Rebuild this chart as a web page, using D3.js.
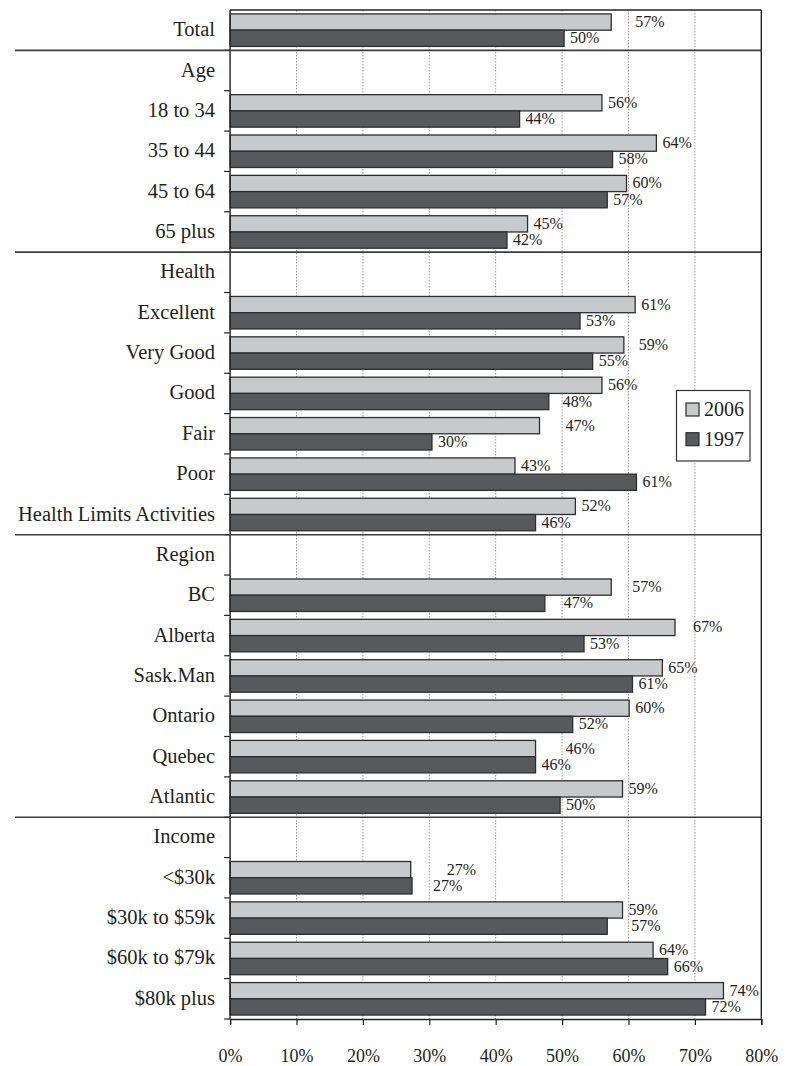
<!DOCTYPE html>
<html>
<head>
<meta charset="utf-8">
<script src="https://cdn.jsdelivr.net/npm/d3@7"></script>
<style>
  html, body { margin: 0; padding: 0; background: #fff; }
  svg { display: block; }
  text { font-family: "Liberation Serif", "DejaVu Serif", serif; fill: #231f20; }
</style>
</head>
<body>
<svg id="chart" width="789" height="1066"></svg>
<script>
// Rows of the chart, top to bottom; group headings carry no bars.
const categories = [
  "Total",
  "Age", "18 to 34", "35 to 44", "45 to 64", "65 plus",
  "Health", "Excellent", "Very Good", "Good", "Fair", "Poor", "Health Limits Activities",
  "Region", "BC", "Alberta", "Sask.Man", "Ontario", "Quebec", "Atlantic",
  "Income", "<$30k", "$30k to $59k", "$60k to $79k", "$80k plus"
];
const headings = ["Age", "Health", "Region", "Income"];
const seriesKeys = ["2006", "1997"];

// Percentages per row (null for headings)
const values2006 = [
  57.4,
  null, 56.0, 64.2, 59.7, 44.8,
  null, 61.0, 59.3, 56.0, 46.6, 42.9, 52.0,
  null, 57.4, 67.0, 65.1, 60.1, 46.0, 59.1,
  null, 27.2, 59.1, 63.7, 74.3
];
const values1997 = [
  50.3,
  null, 43.6, 57.6, 56.8, 41.7,
  null, 52.7, 54.6, 48.0, 30.4, 61.2, 46.0,
  null, 47.4, 53.3, 60.6, 51.6, 46.0, 49.7,
  null, 27.4, 56.8, 65.9, 71.6
];
const xTickValues = [0, 10, 20, 30, 40, 50, 60, 70, 80];

// Extra horizontal shift (px) for value labels that sit further from their bar
const labelNudge = {
  "Total|2006": 18, "Very Good|2006": 9, "Good|1997": 8, "Fair|2006": 20,
  "BC|2006": 15, "BC|1997": 13, "Alberta|2006": 12, "Quebec|2006": 24,
  "<$30k|2006": 30, "<$30k|1997": 15, "$30k to $59k|1997": 18
};

const svg = d3.select("#chart");
const plotTop = 10, plotBottom = 1019, plotLeft = 230.1, plotRight = 761.3;

const x = d3.scaleLinear().domain([0, 80]).range([plotLeft, plotRight]);
const y = d3.scaleBand().domain(categories).range([plotTop, plotBottom])
  .paddingInner(0.195).paddingOuter(0.0975);
const ySub = d3.scaleBand().domain(seriesKeys).range([0, y.bandwidth()]);
const fill = d3.scaleOrdinal().domain(seriesKeys).range(["#c8c9ca", "#58595b"]);

const series = { "2006": values2006, "1997": values1997 };
const fmt = d3.format(".0f");
const boundary = c => y(c) - y.step() * y.paddingInner() / 2;

// Dotted vertical gridlines
svg.append("g")
  .selectAll("line")
  .data(xTickValues.filter(v => v > 0 && v < 80))
  .join("line")
  .attr("x1", d => x(d)).attr("x2", d => x(d))
  .attr("y1", plotTop).attr("y2", plotBottom)
  .attr("stroke", "#9d9d9d").attr("stroke-width", 1)
  .attr("stroke-dasharray", "1.5,1.5");

// Bars
const rows = categories.map((c, i) => ({ c, i })).filter(d => !headings.includes(d.c));
const barData = rows.flatMap(r => seriesKeys.map(k => ({ c: r.c, k, v: series[k][r.i] })));

svg.append("g")
  .selectAll("rect")
  .data(barData)
  .join("rect")
  .attr("x", x(0))
  .attr("y", d => y(d.c) + ySub(d.k))
  .attr("width", d => x(d.v) - x(0))
  .attr("height", ySub.bandwidth())
  .attr("fill", d => fill(d.k))
  .attr("stroke", "#2e2e2e")
  .attr("stroke-width", 1.3);

// Value labels
svg.append("g")
  .selectAll("text")
  .data(barData)
  .join("text")
  .attr("x", d => x(d.v) + 6 + (labelNudge[d.c + "|" + d.k] || 0))
  .attr("y", d => y(d.c) + ySub(d.k) + ySub.bandwidth() / 2 + 5)
  .attr("font-size", 16)
  .text(d => fmt(d.v) + "%");

// Plot frame: top and right edges, left axis line
const frame = svg.append("g").attr("stroke", "#222").attr("stroke-width", 1.4).attr("fill", "none");
frame.append("line").attr("x1", plotLeft).attr("x2", plotRight).attr("y1", plotTop).attr("y2", plotTop);
frame.append("line").attr("x1", plotRight).attr("x2", plotRight).attr("y1", plotTop).attr("y2", plotBottom);
frame.append("line").attr("x1", plotLeft).attr("x2", plotLeft).attr("y1", plotTop).attr("y2", plotBottom);

// Small ticks on the left axis between rows
svg.append("g")
  .selectAll("line")
  .data(categories.slice(1).map(boundary).concat([plotBottom]))
  .join("line")
  .attr("x1", plotLeft - 6).attr("x2", plotLeft)
  .attr("y1", d => d).attr("y2", d => d)
  .attr("stroke", "#222").attr("stroke-width", 1.2);

// Group separators
svg.append("g")
  .selectAll("line")
  .data(headings)
  .join("line")
  .attr("x1", 15).attr("x2", plotRight)
  .attr("y1", d => boundary(d)).attr("y2", d => boundary(d))
  .attr("stroke", "#3c3c3c").attr("stroke-width", 1.6);

// Category labels
svg.append("g")
  .selectAll("text")
  .data(categories)
  .join("text")
  .attr("x", 215)
  .attr("y", d => y(d) + y.bandwidth() / 2 + 6)
  .attr("text-anchor", "end")
  .attr("font-size", 20.5)
  .text(d => d);

// Bottom axis
const xAxis = svg.append("g")
  .attr("transform", `translate(0,${plotBottom})`)
  .call(d3.axisBottom(x).tickValues(xTickValues).tickFormat(d => d + "%").tickSize(6).tickPadding(24));
xAxis.select(".domain").attr("stroke", "#222").attr("stroke-width", 1.4);
xAxis.selectAll(".tick line").attr("stroke", "#222").attr("stroke-width", 1.2);
xAxis.selectAll(".tick text")
  .attr("font-size", 18)
  .attr("font-family", "Liberation Serif, DejaVu Serif, serif")
  .attr("fill", "#231f20");

// Legend
const legend = svg.append("g");
legend.append("rect")
  .attr("x", 676.5).attr("y", 390.5).attr("width", 73.5).attr("height", 70.5)
  .attr("fill", "#fff").attr("stroke", "#333").attr("stroke-width", 1.2);
seriesKeys.forEach((k, i) => {
  legend.append("rect")
    .attr("x", 686).attr("y", 403 + i * 29.7).attr("width", 13).attr("height", 13)
    .attr("fill", fill(k)).attr("stroke", "#2e2e2e").attr("stroke-width", 1.2);
  legend.append("text")
    .attr("x", 704).attr("y", 416 + i * 29.7)
    .attr("font-size", 20)
    .text(k);
});
</script>
</body>
</html>
